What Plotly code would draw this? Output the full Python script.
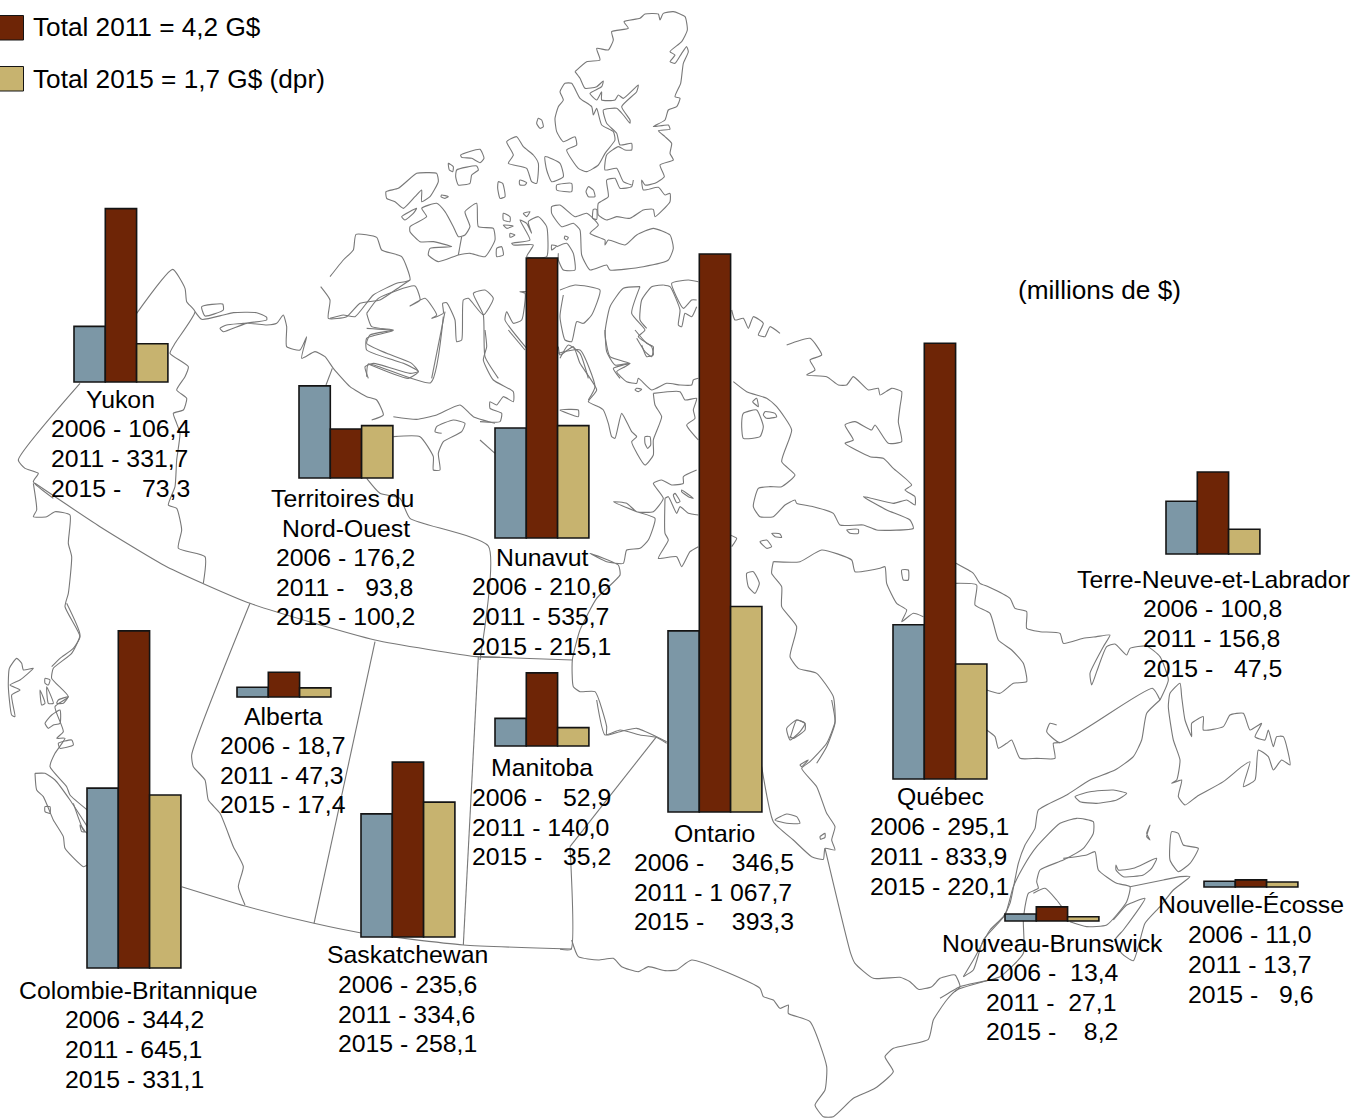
import plotly.graph_objects as go

# ---------- data ----------
provinces = ["Yukon", "Territoires du<br>Nord-Ouest", "Nunavut", "Colombie-Britannique", "Alberta",
             "Saskatchewan", "Manitoba", "Ontario", "Québec", "Terre-Neuve-et-Labrador",
             "Nouveau-Brunswick", "Nouvelle-Écosse"]
values_2006 = [106.4, 176.2, 210.6, 344.2, 18.7, 235.6, 52.9, 346.5, 295.1, 100.8, 13.4, 11.0]
values_2011 = [331.7, 93.8, 535.7, 645.1, 47.3, 334.6, 140.0, 1067.7, 833.9, 156.8, 27.1, 13.7]
values_2015 = [73.3, 100.2, 215.1, 331.1, 17.4, 258.1, 35.2, 393.3, 220.1, 47.5, 8.2, 9.6]
years = ["2006", "2011", "2015"]
legend_labels = ["Total 2011 = 4,2 G$", "Total 2015 = 1,7 G$ (dpr)"]
unit_label = "(millions de $)"

# ---------- placement (page pixels) ----------
group_left = [74, 299, 495, 87, 237, 361, 495, 668, 893, 1166, 1005, 1204]
group_base = [382, 478, 538, 968, 697, 937, 746, 812, 779, 554, 921, 887]
name_x = [120, 344, 542, 138, 283, 407, 542, 714, 940, 1213, 1052, 1251]
name_y = [400, 514, 558, 991, 717, 955, 768, 834, 797, 580, 944, 905]
lines_x = [51, 276, 472, 65, 220, 338, 472, 634, 870, 1143, 986, 1188]
lines_y = [[429, 459, 489], [558, 588, 617], [587, 617, 647], [1020, 1050, 1080], [746, 776, 805],
           [985, 1015, 1044], [798, 828, 857], [863, 893, 922], [827, 857, 887], [609, 639, 669],
           [973, 1003, 1032], [935, 965, 995]]
extra_pad = [0, 0, 0, 0, 0, 0, 0, 0, 0, 0, 1, 0]
W, H = 1359, 1118
PX_PER_UNIT = 0.5226
BAR_W = 31.3
BLUE, RED, TAN = "#7C97A6", "#6E2506", "#C7B36F"
EDGE = "#141414"
MAP_LINE = "#787878"
FONT = "Liberation Sans"
FS = 24.8
FS_BIG = 26.2

# ---------- map outline: (origin, 3x-scaled points) ----------
arctic = [
 [(735,215),(770,185),(810,180),(800,145),(835,150),(850,120),(845,95),(895,85),(882,65),(930,55),(945,42),(985,42),(990,60),(1000,40),(1030,35),(1065,50),(1072,90),(1055,125),(1020,155),(1035,165),(1020,185),(1035,190),(1055,160),(1070,140),(1075,155),(1060,190),(1052,250),(1035,290),(1050,295),(1040,320),(1015,330),(1005,360),(970,380),(1015,375),(1020,388),(985,392),(1005,410),(1025,430),(1020,460),(1030,480),(990,495),(1003,530),(975,550),(945,555),(935,540),(940,570),(985,562),(1005,585),(1020,580),(1020,605),(975,650),(970,628),(940,630),(900,655),(860,650),(830,660),(805,645),(805,610),(835,590),(830,540),(855,535),(870,565),(905,560),(910,540)],
 [(735,215),(750,235),(765,265),(800,260),(820,243),(815,260),(780,280),(800,300),(815,275),(815,300),(855,300),(865,285),(880,295),(925,255),(920,275),(875,320),(900,360),(900,370),(880,345),(860,325),(820,330),(830,370),(860,400),(870,435),(905,430),(905,450),(885,450),(865,440),(830,465),(825,510),(860,505),(880,545),(905,555)],
 [(705,250),(725,250),(750,295),(785,320),(790,345),(800,325),(815,375),(850,395),(855,420),(825,460),(805,495),(770,515),(745,505),(710,450),(740,435),(735,410),(700,425),(680,395),(675,355),(685,320),(700,300),(690,275),(705,250)],
 [(625,355),(635,360),(640,380),(630,385),(620,370),(625,355)],
 [(530,425),(560,410),(580,440),(610,465),(625,490),(620,550),(605,545),(590,505),(535,490),(550,465),(530,425)],
 [(645,470),(690,490),(700,530),(665,545),(650,510),(645,470)],
 [(680,555),(725,550),(725,575),(680,570),(680,555)],
 [(775,560),(790,570),(795,590),(775,590),(768,575),(775,560)],
 [(570,540),(590,548),(585,555),(570,555),(568,545),(570,540)],
 [(505,545),(518,550),(525,590),(510,595),(503,565),(505,545)],
 [(355,490),(370,500),(368,515),(358,510),(355,490)],
 [(392,465),(450,448),(462,475),(450,488),(425,475),(395,472),(392,465)],
 [(380,510),(440,498),(445,510),(425,525),(420,550),(385,555),(377,530),(380,510)],
 [(168,575),(205,565),(260,520),(290,518),(320,520),(325,545),(300,590),(275,605),(275,570),(255,590),(220,625),(195,605),(170,595),(168,575)],
 [(335,585),(355,590),(345,595),(333,590),(335,585)],
 [(215,650),(260,625),(250,640),(225,660),(215,650)],
 [(240,680),(290,650),(275,625),(320,610),(345,635),(370,680),(385,710),(405,705),(420,680),(405,635),(440,610),(445,680),(490,685),(495,720),(465,770),(420,760),(385,765),(325,785),(295,765),(300,745),(365,740),(310,725),(270,725),(240,695),(240,680)],
 [(395,710),(385,765)],
 [(520,640),(540,650),(540,665),(520,660),(520,640)],
 [(520,675),(550,678),(530,685),(520,675)],
 [(540,700),(555,705),(540,712),(540,700)],
 [(500,745),(515,740),(520,765),(500,770),(500,745)],
 [(580,640),(600,635),(590,650),(580,640)],
 [(545,730),(600,720),(570,660),(590,670),(605,700),(595,665),(625,650),(650,680),(650,770),(590,770),(610,735),(550,735),(545,730)],
 [(665,620),(690,615),(735,650),(770,640),(805,675),(780,700),(825,720),(825,735),(835,720),(885,735),(920,705),(970,685),(1020,705),(1030,745),(1015,780),(940,800),(840,810),(830,795),(780,810),(755,765),(750,690),(730,670),(695,680),(665,640),(665,620)],
 [(790,628),(800,628),(800,658),(788,655),(790,628)],
 [(705,708),(715,712),(710,720),(703,715),(705,708)],
 [(665,735),(680,738),(665,750),(665,735)],
 [(680,740),(710,730),(730,760),(735,810),(700,810),(685,780),(685,760)],
 [(0,830),(40,780),(70,750),(78,703),(140,712),(155,750),(215,770),(240,840),(200,850),(130,885),(75,950),(40,945),(0,955)],
 [(110,940),(145,895),(255,858),(270,900),(240,918),(285,895),(320,945),(305,955),(340,940),(338,910),(350,908),(375,960),(380,1025),(395,1020),(400,900),(415,895),(460,945),(490,895),(465,870),(430,880),(460,945),(465,1070),(505,1135)],
 [(345,935),(305,1135)],
 [(110,940),(125,980),(190,990),(120,1005),(110,1030),(170,1060),(245,1090),(265,1115),(240,1120),(130,1090),(105,1100),(115,1135)],
 [(590,875),(570,875),(585,880),(575,960),(550,970),(530,935),(525,960),(590,1045)],
 [(690,870),(735,855),(810,870),(785,945),(760,970),(740,965),(725,1025),(705,1020),(690,950),(700,885)],
 [(690,1075),(715,1035),(750,1060),(775,1135)],
 [(930,860),(880,865),(840,920),(825,1000),(840,1070),(900,1090),(880,1095),(850,1105),(870,1135)],
 [(930,860),(905,940),(945,990),(925,1010),(965,1040),(970,1065),(950,1070),(935,1035)],
 [(1000,855),(965,860),(935,900),(930,960),(950,985)],
 [(1105,845),(1075,840),(1025,850),(1060,925),(1085,900),(1100,900)],
 [(1000,855),(1020,860),(1050,930),(1045,975),(1055,980),(1065,940),(1085,950),(1100,920)],
 [(1205,930),(1215,960),(1240,955),(1255,985),(1270,950),(1300,970),(1285,1005),(1305,1010),(1320,980),(1350,1000)],
]
west = [
 [(410,160),(518,28),(555,85),(560,125),(585,155),(525,250),(510,280),(565,320),(555,350),(530,390),(560,415),(550,450),(520,460),(530,490),(540,520),(530,600),(525,680),(505,735),(530,745),(545,810),(535,865),(615,890),(610,970)],
 [(240,370),(55,600),(75,625),(115,640),(100,665),(160,715)],
 [(100,670),(110,750),(100,770),(140,770),(165,755),(210,765),(205,850),(215,890),(205,1000),(195,1040),(240,1130),(220,1165),(180,1195),(155,1220)],
 [(585,155),(605,178),(670,165),(700,158),(770,158),(800,172),(800,180),(730,190),(680,195),(660,205),(670,215),(740,190),(800,195),(830,190),(850,165),(860,200),(860,260),(900,270),(920,230),(905,295),(945,275),(975,290),(1000,325),(1050,380),(1100,410),(1130,420),(1150,465),(1115,480)],
 [(997,325),(978,375)],
 [(605,140),(668,132),(670,150),(615,168),(605,140)],
 [(962,80),(990,120),(985,175),(1040,170),(1080,130),(1140,120),(1200,80),(1230,60)],
 [(1330,170),(1292,368),(1105,312),(1100,350)],
 [(1105,312),(1225,355),(1255,335),(1210,310),(1180,300),(1100,270),(1100,235),(1180,212),(1100,205)],
 [(1180,470),(1250,478),(1310,465),(1380,435),(1420,470),(1485,490)],
 [(1180,530),(1260,530),(1300,590),(1300,630),(1320,630),(1315,580),(1330,545),(1385,515),(1395,490),(1360,480),(1310,500),(1305,515),(1325,520)],
 [(1100,655),(1140,700),(1200,715),(1230,775),(1465,858),(1440,1200)],
 [(105,670),(300,800),(500,920),(750,1030),(1125,1140),(1430,1190),(1500,1192)],
]
bc_south = [
 [(200,10),(240,105),(215,160),(160,205),(155,235),(205,290),(165,320),(190,395),(170,415),(195,415),(165,460),(150,500),(200,560),(210,585),(262,630)],
 [(105,520),(135,520),(165,540),(210,600),(262,680)],
 [(105,520),(110,570),(130,590),(160,660),(190,710),(195,745),(250,800),(262,795)],
 [(220,610),(250,690),(262,700)],
 [(28,205),(50,175),(65,190),(70,210),(100,205),(60,240),(30,255),(60,270),(35,285),(45,350),(35,345),(25,260),(28,205)],
 [(120,270),(135,310),(125,315),(120,270)],
 [(140,260),(160,310),(145,310),(140,260)],
 [(175,300),(205,290),(190,310),(170,310),(175,300)],
 [(155,345),(180,330),(180,370),(160,375),(145,385),(135,370),(150,350),(155,345)],
 [(175,430),(215,420),(220,435),(180,445),(175,430)],
 [(135,620),(150,620),(150,640),(135,635),(135,620)],
 [(240,675),(255,695),(245,695),(240,675)],
 [(135,235),(150,240),(145,255),(135,250),(135,235)],
 [(750,10),(575,465),(580,500),(615,540),(625,600),(660,640),(700,740),(730,800),(715,860),(735,915)],
 [(1125,125),(942,970)],
 [(1435,170),(1390,1035)],
 [(545,860),(735,918),(942,970),(1080,998),(1390,1035),(1715,1047)],
]
hudson = [
 [(880,695),(960,695),(1025,660),(1115,690),(1125,725),(1200,715),(1215,710),(1220,760),(1250,820),(1280,840),(1265,875),(1300,850),(1330,860)],
 [(880,695),(875,730),(905,770),(905,830),(950,890),(930,980),(955,1015),(1010,1030),(1060,1100),(1065,1180),(1040,1250),(1010,1300)],
 [(800,730),(820,725),(838,760),(825,790),(805,770),(800,730)],
 [(1265,720),(1285,720),(1285,750),(1270,750),(1265,720)],
 [(840,635),(860,630),(875,650),(860,655),(840,635)],
 [(875,610),(900,612),(905,622),(885,620),(875,610)],
 [(1100,600),(1135,598),(1135,610),(1110,610),(1100,600)],
 [(750,615),(770,625),(755,650)],
 [(920,1195),(950,1170),(975,1180),(960,1205),(930,1230),(920,1195)],
 [(495,320),(510,320),(512,345),(503,355),(495,340),(495,320)],
 [(920,45),(990,25),(1025,75),(990,90),(1005,120),(980,135),(1040,140),(1075,165),(1100,165),(1120,140),(1165,180),(1195,175),(1200,195),(1235,175),(1265,185),(1260,230),(1255,275),(1265,335),(1225,340),(1185,285),(1175,300),(1125,275),(1095,285),(1120,330),(1095,340),(1170,380),(1210,385),(1240,415),(1295,465),(1275,480),(1305,500),(1305,525),(1280,510),(1240,520),(1150,500),(1220,540),(1290,570),(1300,595),(1190,600),(1150,585),(1080,585),(1060,550),(1000,530),(950,520),(945,510),(915,525),(880,560),(840,560),(820,530),(835,475),(870,470),(905,470),(945,435),(905,395),(935,300),(890,230),(860,205),(800,185),(760,155)],
 [(520,190),(600,185),(615,210),(650,205),(640,240),(645,265),(620,285),(655,330)],
 [(520,190),(525,225),(545,260),(520,330),(520,375),(495,405),(455,335),(470,320),(455,305),(425,250),(405,325),(395,320),(385,280),(370,240),(355,230),(325,215),(350,180),(300,100),(280,50),(240,75),(235,50)],
 [(375,0),(380,65),(405,105),(450,100),(435,110),(410,125),(440,155),(470,160),(475,145),(515,180),(560,160),(600,165),(635,165),(640,150),(655,145)],
 [(465,0),(500,40),(520,50),(515,80),(495,65),(470,25)],
 [(470,175),(485,178),(475,185),(465,180),(470,175)],
 [(790,250),(830,240),(850,290),(840,320),(790,325),(785,280),(790,250)],
 [(855,245),(885,250),(890,260),(860,265),(850,255),(855,245)],
 [(830,205),(835,230),(818,215),(830,205)],
 [(15,0),(20,50),(10,90),(40,150),(100,185),(100,215),(70,200),(50,225),(30,215),(30,235),(65,250),(60,275),(0,275)],
 [(85,0),(135,60)],
 [(0,330),(45,370)],
 [(235,70),(300,60),(345,170),(325,210)],
 [(240,240),(295,240),(295,260),(240,240)],
 [(650,420),(610,440),(610,460),(575,465),(545,450),(520,460),(550,505),(520,545),(470,545),(440,520),(400,515),(470,545),(525,565),(505,630),(480,655),(440,660),(430,700),(380,695),(330,670),(415,705),(420,735),(350,805),(300,900),(277,990),(280,1070),(300,1085),(345,1085),(380,1190),(380,1215),(420,1205),(470,1195),(530,1220),(560,1235)],
 [(555,505),(565,500),(590,550),(600,530),(625,550),(655,555)],
 [(555,505),(555,610),(565,630),(535,685),(590,680),(605,710),(630,665),(655,650)],
 [(605,480),(640,505),(625,500),(605,485),(605,480)],
 [(585,490),(600,515),(590,518),(580,495),(585,490)],
 [(0,980),(277,990)],
]
ontario = [
 [(288,112),(30,440)],
 [(30,440),(33,748),(0,748)],
 [(35,720),(55,770),(115,780),(160,775),(185,800),(235,815),(265,800),(315,812),(350,810),(395,780),(600,865),(610,890),(640,900),(660,925),(685,915),(685,940),(750,965),(800,1100),(795,1170),(765,1215),(790,1250),(820,1250),(880,1195),(945,1165),(1000,1115),(975,1070),(1000,1045),(1105,1018),(1120,960),(1160,900),(1190,870),(1290,840)],
 [(795,445),(872,760),(885,790),(940,835),(1020,832),(1050,845),(1075,868),(1115,860),(1140,835),(1185,825),(1200,860),(1185,875)],
 [(605,200),(640,365),(700,420),(755,470),(790,478),(795,445),(825,450),(815,420),(825,380),(800,340),(770,260),(725,205),(750,185),(800,130),(825,65),(815,0)],
 [(645,360),(680,342),(710,350),(720,370),(680,370),(645,360)],
 [(780,410),(795,400),(795,412),(782,418),(780,410)],
 [(720,195),(745,180),(725,200),(720,195)],
 [(690,115),(710,60),(735,70),(735,90),(700,115),(690,110),(690,115)],
 [(110,0),(135,105),(180,90),(240,105),(288,112),(320,130)],
]
east = [
 [(48,70),(100,100),(120,130),(145,140),(210,175),(225,205),(260,215),(260,265),(300,275),(360,280),(370,310),(430,295),(470,290),(510,285),(490,320),(450,400),(455,435),(470,395),(500,320),(525,312),(560,345),(570,325),(620,318),(660,350),(685,420),(660,480)],
 [(48,130),(110,135),(105,195),(150,220),(175,300),(215,330),(250,370),(260,425),(220,430),(180,460),(140,450)],
 [(660,480),(637,445),(360,608),(320,575),(330,550),(350,555)],
 [(360,608),(340,610),(345,655),(290,655),(240,655),(215,600),(200,610),(175,625),(165,590),(140,570)],
 [(660,480),(620,520),(605,600),(580,650),(525,690),(450,720),(380,765),(295,810),(285,865),(255,915),(235,970),(210,1090),(190,1130),(150,1170),(100,1260),(70,1310)],
 [(70,1310),(100,1290),(130,1200),(195,1125),(220,1040),(250,980),(290,920),(360,850),(410,835),(460,845),(460,880),(430,925),(370,960),(300,990),(290,1025),(295,1045),(265,1060),(255,1100),(250,1145),(250,1240),(180,1310),(60,1340),(0,1375)],
 [(370,955),(440,945),(465,935),(475,990),(530,1030),(570,1040),(560,1085),(500,1155),(440,1160),(390,1145)],
 [(280,1060),(315,1045),(350,1080),(365,1100)],
 [(570,1040),(670,1020),(720,1010),(750,1010),(700,1050),(660,1100),(615,1150),(580,1262),(545,1240),(525,1200),(550,1170),(615,1075),(560,1095),(550,1105),(520,1140)],
 [(528,975),(535,990),(580,985),(650,955),(635,985),(610,1005),(550,1010),(528,990),(528,975)],
 [(695,875),(715,880),(730,915),(775,925),(750,970),(715,995),(690,960),(695,875)],
 [(630,855),(620,890),(630,900),(620,880),(630,855)],
 [(405,770),(450,755),(520,750),(560,760),(530,780),(470,790),(420,785),(405,770)],
 [(720,430),(690,460),(685,500),(700,600),(720,660),(710,720),(695,730),(725,720),(715,770),(735,795),(770,770),(850,725),(905,680),(930,665),(910,740),(945,720),(955,630),(985,650),(1000,690),(1025,660),(1050,675),(1030,590),(1010,590),(1000,620),(985,570),(975,600),(945,590),(965,550),(930,570),(910,520),(870,525),(850,560),(790,570),(790,530),(755,550),(755,590),(735,540),(725,470),(720,430)],
]
map_parts = [((330, 0), arctic), ((0, 260), west), ((0, 600), bc_south), ((480, 330), hudson),
             ((560, 700), ontario), ((940, 540), east)]

map_x, map_y = [], []
for (ox, oy), polylines in map_parts:
    for line in polylines:
        map_x += [ox + p[0] / 3 for p in line] + [None]
        map_y += [oy + p[1] / 3 for p in line] + [None]

fig = go.Figure()
fig.add_trace(go.Scatter(x=map_x, y=map_y, mode="lines", xaxis="x", yaxis="y", showlegend=False,
                         hoverinfo="skip", line=dict(color=MAP_LINE, width=1.1, shape="spline", smoothing=0.5)))

bases = [(H - b) / PX_PER_UNIT for b in group_base]
for i, (year, vals, col) in enumerate(zip(years, [values_2006, values_2011, values_2015], [BLUE, RED, TAN])):
    fig.add_trace(go.Bar(x=[l + BAR_W * (i + 0.5) for l in group_left], y=vals, base=bases,
                         width=BAR_W, name=year, xaxis="x", yaxis="y2", showlegend=False,
                         marker=dict(color=col, line=dict(color=EDGE, width=1.6))))


def fmt(v):
    s = f"{v:.1f}".replace(".", ",")
    if v >= 1000:
        s = s[0] + "\u00a0" + s[1:]
    return s


def units(s):
    return sum(2 if c.isdigit() else 1 for c in s)


ann = []
def text(x, y, t, anchor="left", size=FS):
    ann.append(dict(x=x, y=y - 0.5, xref="x", yref="y", text=t, showarrow=False, xanchor=anchor, yanchor="middle",
                    font=dict(family=FONT, size=size, color="black"), borderpad=0, borderwidth=0))


for i, name in enumerate(provinces):
    if "<br>" in name:
        a, b = name.split("<br>")
        text(name_x[i] - 2, name_y[i] - 15, a, "center")
        text(name_x[i] + 2, name_y[i] + 15, b, "center")
    else:
        text(name_x[i], name_y[i], name, "center")
    row = [fmt(values_2006[i]), fmt(values_2011[i]), fmt(values_2015[i])]
    width = max(units(s) for s in row)
    for yr, s, ly in zip(years, row, lines_y[i]):
        text(lines_x[i], ly, f"{yr} -\u00a0" + "\u00a0" * (width - units(s) + extra_pad[i]) + s)

text(33, 27, legend_labels[0], size=FS_BIG)
text(33, 79, legend_labels[1], size=FS_BIG)
text(1018, 290, unit_label, size=FS_BIG)

shapes = [dict(type="rect", xref="x", yref="y", x0=-2, x1=23.5, y0=y0, y1=y1, fillcolor=c,
               line=dict(color=EDGE, width=1), layer="above")
          for y0, y1, c in [(15.5, 40, RED), (66.5, 91, TAN)]]

fig.update_layout(
    width=W, height=H, margin=dict(l=0, r=0, t=0, b=0), paper_bgcolor="white", plot_bgcolor="white",
    barmode="overlay", showlegend=False, annotations=ann, shapes=shapes,
    xaxis=dict(range=[0, W], visible=False, fixedrange=True),
    yaxis=dict(range=[H, 0], visible=False, fixedrange=True),
    yaxis2=dict(range=[0, H / PX_PER_UNIT], visible=False, overlaying="y", fixedrange=True),
)
fig.write_html("out.html", config=dict(displayModeBar=False),
               post_script="document.body.style.margin='0';document.body.style.overflow='hidden';")
